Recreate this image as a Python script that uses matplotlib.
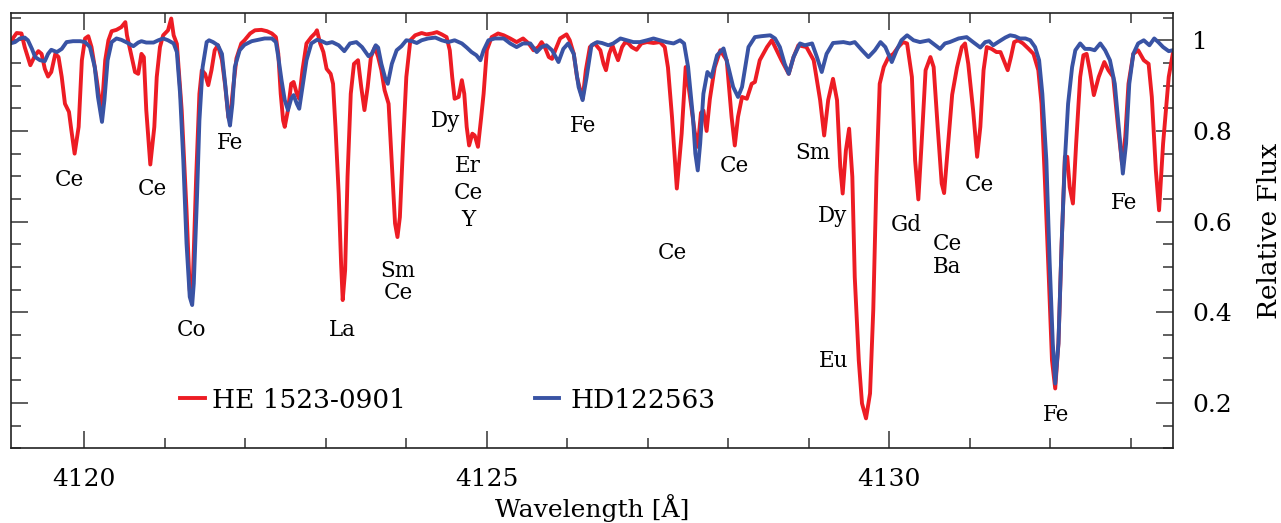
import matplotlib
matplotlib.use("Agg")
import matplotlib.pyplot as plt
import numpy as np
from matplotlib.ticker import MultipleLocator, FixedLocator, FuncFormatter

# HE 1523-0901 (red)
red_wl = [4119.08, 4119.16, 4119.22, 4119.26, 4119.33, 4119.39, 4119.43, 4119.47, 4119.51, 4119.55,
          4119.59, 4119.64, 4119.68, 4119.72, 4119.76, 4119.81, 4119.84, 4119.88, 4119.93, 4119.97,
          4120.01, 4120.05, 4120.09, 4120.15, 4120.19, 4120.22, 4120.26, 4120.30, 4120.34, 4120.40,
          4120.46, 4120.51, 4120.53, 4120.58, 4120.63, 4120.67, 4120.71, 4120.74, 4120.77, 4120.82,
          4120.87, 4120.90, 4120.94, 4120.98, 4121.04, 4121.08, 4121.11, 4121.15, 4121.21, 4121.27,
          4121.31, 4121.33, 4121.35, 4121.39, 4121.43, 4121.46, 4121.50, 4121.54, 4121.58, 4121.62,
          4121.66, 4121.71, 4121.75, 4121.79, 4121.81, 4121.84, 4121.89, 4121.95, 4121.99, 4122.06,
          4122.12, 4122.20, 4122.27, 4122.33, 4122.38, 4122.41, 4122.44, 4122.47, 4122.49, 4122.53,
          4122.57, 4122.60, 4122.64, 4122.67, 4122.71, 4122.76, 4122.82, 4122.87, 4122.89, 4122.93,
          4122.97, 4123.01, 4123.06, 4123.09, 4123.12, 4123.16, 4123.19, 4123.21, 4123.24, 4123.27,
          4123.31, 4123.35, 4123.40, 4123.44, 4123.48, 4123.52, 4123.56, 4123.61, 4123.65, 4123.69,
          4123.73, 4123.78, 4123.82, 4123.86, 4123.89, 4123.92, 4123.96, 4124.00, 4124.05, 4124.11,
          4124.19, 4124.25, 4124.32, 4124.38, 4124.44, 4124.50, 4124.54, 4124.57, 4124.60, 4124.65,
          4124.69, 4124.72, 4124.75, 4124.78, 4124.82, 4124.85, 4124.89, 4124.93, 4124.96, 4125.00,
          4125.06, 4125.14, 4125.21, 4125.29, 4125.37, 4125.45, 4125.52, 4125.58, 4125.64, 4125.68,
          4125.72, 4125.77, 4125.81, 4125.85, 4125.91, 4125.99, 4126.03, 4126.08, 4126.12, 4126.16,
          4126.19, 4126.23, 4126.28, 4126.34, 4126.41, 4126.45, 4126.48, 4126.52, 4126.56, 4126.59,
          4126.63, 4126.68, 4126.72, 4126.76, 4126.80, 4126.86, 4126.92, 4126.99, 4127.07, 4127.15,
          4127.21, 4127.25, 4127.30, 4127.36, 4127.42, 4127.47, 4127.52, 4127.58, 4127.62, 4127.66,
          4127.69, 4127.73, 4127.77, 4127.83, 4127.90, 4127.98, 4128.04, 4128.08, 4128.12, 4128.17,
          4128.23, 4128.29, 4128.33, 4128.39, 4128.48, 4128.54, 4128.60, 4128.66, 4128.75, 4128.81,
          4128.87, 4128.97, 4129.06, 4129.14, 4129.19, 4129.24, 4129.30, 4129.35, 4129.39, 4129.42,
          4129.46, 4129.50, 4129.54, 4129.57, 4129.62, 4129.66, 4129.71, 4129.76, 4129.80, 4129.84,
          4129.88, 4129.93, 4129.99, 4130.05, 4130.11, 4130.17, 4130.22, 4130.28, 4130.32, 4130.36,
          4130.40, 4130.45, 4130.51, 4130.55, 4130.60, 4130.65, 4130.68, 4130.73, 4130.78, 4130.84,
          4130.90, 4130.94, 4130.98, 4131.04, 4131.09, 4131.13, 4131.17, 4131.21, 4131.27, 4131.33,
          4131.38, 4131.42, 4131.47, 4131.51, 4131.55, 4131.60, 4131.66, 4131.73, 4131.79, 4131.85,
          4131.89, 4131.93, 4131.98, 4132.02, 4132.06, 4132.10, 4132.14, 4132.18, 4132.21, 4132.24,
          4132.28, 4132.32, 4132.37, 4132.41, 4132.45, 4132.49, 4132.54, 4132.60, 4132.67, 4132.72,
          4132.78, 4132.84, 4132.89, 4132.93, 4132.97, 4133.03, 4133.09, 4133.16, 4133.22, 4133.26,
          4133.31, 4133.35, 4133.40, 4133.47, 4133.52]
red_flux = [0.996, 1.016, 1.015, 0.985, 0.945, 0.967, 0.976, 0.970, 0.937, 0.920,
            0.930, 0.970, 0.963, 0.919, 0.860, 0.842, 0.801, 0.750, 0.809, 0.956,
            1.004, 1.009, 0.985, 0.919, 0.868, 0.853, 0.956, 1.000, 1.020, 1.023,
            1.029, 1.040, 1.011, 0.970, 0.930, 0.926, 0.970, 0.963, 0.846, 0.726,
            0.809, 0.919, 0.985, 1.011, 1.022, 1.048, 1.011, 0.992, 0.846, 0.625,
            0.449, 0.427, 0.478, 0.699, 0.882, 0.934, 0.926, 0.901, 0.934, 0.978,
            0.989, 0.956, 0.900, 0.830, 0.825, 0.880, 0.960, 0.993, 1.000, 1.015,
            1.022, 1.023, 1.020, 1.015, 1.007, 0.970, 0.882, 0.823, 0.809, 0.846,
            0.904, 0.908, 0.882, 0.871, 0.934, 0.993, 1.007, 1.016, 1.022, 0.993,
            0.974, 0.937, 0.926, 0.904, 0.809, 0.662, 0.507, 0.427, 0.493, 0.699,
            0.882, 0.948, 0.956, 0.897, 0.846, 0.897, 0.963, 0.985, 0.963, 0.934,
            0.890, 0.860, 0.728, 0.596, 0.566, 0.610, 0.772, 0.919, 1.000, 1.011,
            1.016, 1.013, 1.015, 1.018, 1.013, 1.007, 0.978, 0.919, 0.871, 0.875,
            0.912, 0.882, 0.809, 0.768, 0.794, 0.790, 0.765, 0.830, 0.882, 0.978,
            1.007, 1.015, 1.011, 1.004, 0.996, 1.004, 0.993, 0.978, 0.985, 0.996,
            0.985, 0.963, 0.959, 0.978, 1.004, 1.013, 1.000, 0.970, 0.919, 0.890,
            0.871, 0.934, 0.985, 0.993, 0.978, 0.948, 0.934, 0.970, 0.989, 0.974,
            0.956, 0.985, 0.996, 0.993, 0.985, 0.979, 0.993, 0.996, 0.994, 0.996,
            0.985, 0.940, 0.831, 0.673, 0.794, 0.941, 0.880, 0.800, 0.765, 0.840,
            0.845, 0.800, 0.870, 0.940, 0.978, 0.956, 0.831, 0.768, 0.831, 0.875,
            0.871, 0.904, 0.908, 0.956, 0.985, 1.000, 0.978, 0.956, 0.926, 0.963,
            0.989, 0.985, 0.956, 0.868, 0.790, 0.868, 0.915, 0.868, 0.721, 0.662,
            0.757, 0.805, 0.699, 0.478, 0.294, 0.199, 0.166, 0.221, 0.405, 0.699,
            0.904, 0.941, 0.963, 0.970, 0.985, 0.996, 0.993, 0.919, 0.735, 0.649,
            0.772, 0.934, 0.963, 0.941, 0.809, 0.684, 0.663, 0.772, 0.880, 0.940,
            0.985, 0.993, 0.948, 0.846, 0.743, 0.809, 0.934, 0.985, 0.981, 0.974,
            0.974, 0.956, 0.934, 0.963, 0.996, 1.000, 0.993, 0.981, 0.970, 0.934,
            0.860, 0.699, 0.478, 0.294, 0.232, 0.331, 0.552, 0.743, 0.743, 0.676,
            0.640, 0.772, 0.919, 0.967, 0.970, 0.934, 0.879, 0.919, 0.952, 0.934,
            0.919, 0.809, 0.728, 0.787, 0.904, 0.970, 0.978, 0.956, 0.948, 0.875,
            0.713, 0.625, 0.772, 0.919, 0.970]

# HD122563 (blue)
blue_wl = [4119.08, 4119.14, 4119.20, 4119.26, 4119.30, 4119.35, 4119.39, 4119.45, 4119.51, 4119.55,
           4119.59, 4119.66, 4119.72, 4119.78, 4119.86, 4119.95, 4120.01, 4120.07, 4120.13, 4120.17,
           4120.22, 4120.25, 4120.29, 4120.34, 4120.40, 4120.46, 4120.53, 4120.61, 4120.67, 4120.71,
           4120.77, 4120.86, 4120.92, 4120.98, 4121.04, 4121.11, 4121.15, 4121.19, 4121.23, 4121.27,
           4121.31, 4121.34, 4121.36, 4121.40, 4121.43, 4121.47, 4121.52, 4121.55, 4121.60, 4121.66,
           4121.71, 4121.75, 4121.79, 4121.81, 4121.84, 4121.87, 4121.93, 4121.99, 4122.08, 4122.16,
           4122.24, 4122.33, 4122.38, 4122.41, 4122.45, 4122.49, 4122.53, 4122.57, 4122.60, 4122.64,
           4122.67, 4122.71, 4122.76, 4122.82, 4122.89, 4122.95, 4123.01, 4123.08, 4123.16, 4123.23,
           4123.30, 4123.38, 4123.45, 4123.53, 4123.57, 4123.62, 4123.65, 4123.69, 4123.74, 4123.77,
           4123.82, 4123.88, 4123.94, 4124.00, 4124.07, 4124.13, 4124.19, 4124.27, 4124.36, 4124.44,
           4124.52, 4124.60, 4124.69, 4124.75, 4124.81, 4124.87, 4124.92, 4124.96, 4125.02, 4125.10,
           4125.21, 4125.29, 4125.37, 4125.45, 4125.54, 4125.62, 4125.68, 4125.74, 4125.81, 4125.89,
           4125.95, 4126.01, 4126.08, 4126.14, 4126.19, 4126.24, 4126.30, 4126.37, 4126.43, 4126.51,
           4126.57, 4126.66, 4126.74, 4126.82, 4126.90, 4126.99, 4127.07, 4127.15, 4127.23, 4127.32,
           4127.40, 4127.45, 4127.50, 4127.56, 4127.59, 4127.62, 4127.65, 4127.69, 4127.74, 4127.79,
           4127.86, 4127.94, 4128.00, 4128.06, 4128.12, 4128.17, 4128.25, 4128.33, 4128.41, 4128.52,
           4128.58, 4128.64, 4128.70, 4128.75, 4128.81, 4128.89, 4128.95, 4129.04, 4129.10, 4129.16,
           4129.22, 4129.30, 4129.43, 4129.51, 4129.57, 4129.66, 4129.74, 4129.82, 4129.89, 4129.95,
           4130.03, 4130.09, 4130.15, 4130.22, 4130.30, 4130.38, 4130.49, 4130.57, 4130.63, 4130.69,
           4130.75, 4130.86, 4130.96, 4131.04, 4131.13, 4131.19, 4131.24, 4131.29, 4131.35, 4131.44,
           4131.50, 4131.56, 4131.62, 4131.69, 4131.75, 4131.81, 4131.86, 4131.90, 4131.95, 4131.99,
           4132.03, 4132.06, 4132.10, 4132.14, 4132.18, 4132.22, 4132.27, 4132.31, 4132.37, 4132.43,
           4132.49, 4132.55, 4132.62, 4132.68, 4132.74, 4132.80, 4132.86, 4132.90, 4132.94, 4132.98,
           4133.03, 4133.09, 4133.16, 4133.23, 4133.29, 4133.34, 4133.40, 4133.47, 4133.52]
blue_flux = [0.993, 0.996, 1.004, 1.006, 1.000, 0.981, 0.963, 0.956, 0.954, 0.970,
             0.979, 0.974, 0.981, 0.996, 0.998, 0.998, 0.996, 0.985, 0.941, 0.875,
             0.820, 0.868, 0.956, 0.996, 1.004, 1.001, 0.995, 0.987, 0.995, 0.998,
             0.995, 0.995, 1.000, 1.004, 1.000, 0.993, 0.974, 0.882, 0.735, 0.552,
             0.434, 0.416, 0.463, 0.654, 0.823, 0.941, 0.996, 1.000, 0.996, 0.989,
             0.970, 0.904, 0.831, 0.812, 0.860, 0.941, 0.978, 0.990, 0.998, 1.001,
             1.004, 1.004, 0.996, 0.963, 0.912, 0.868, 0.846, 0.871, 0.879, 0.860,
             0.849, 0.897, 0.956, 0.993, 1.001, 0.998, 0.993, 0.996, 0.989, 0.976,
             0.993, 0.996, 0.985, 0.965, 0.970, 0.989, 0.984, 0.948, 0.915, 0.904,
             0.948, 0.978, 0.987, 1.000, 0.998, 0.994, 1.000, 1.004, 1.006, 1.000,
             0.996, 1.000, 0.993, 0.984, 0.974, 0.967, 0.956, 0.978, 1.000, 1.004,
             1.004, 0.993, 0.985, 0.993, 0.993, 0.974, 0.985, 0.989, 0.978, 0.952,
             0.981, 0.993, 0.970, 0.897, 0.868, 0.919, 0.989, 0.996, 0.994, 0.989,
             0.993, 1.004, 1.000, 0.996, 0.996, 1.000, 1.004, 1.000, 0.996, 0.993,
             1.000, 0.993, 0.941, 0.831, 0.750, 0.713, 0.772, 0.882, 0.930, 0.919,
             0.967, 0.982, 0.941, 0.897, 0.875, 0.897, 0.985, 1.007, 1.009, 1.011,
             1.004, 0.985, 0.948, 0.926, 0.963, 0.993, 0.989, 0.993, 0.963, 0.930,
             0.970, 0.994, 0.996, 0.993, 0.996, 0.978, 0.963, 0.978, 0.996, 0.985,
             0.952, 0.978, 1.000, 1.011, 1.000, 0.996, 1.000, 0.989, 0.981, 0.993,
             0.996, 1.004, 1.007, 0.996, 0.984, 0.996, 0.998, 0.989, 0.996, 1.006,
             1.011, 1.009, 1.004, 1.004, 1.000, 0.985, 0.956, 0.882, 0.735, 0.515,
             0.331, 0.243, 0.331, 0.552, 0.735, 0.860, 0.941, 0.978, 0.993, 0.981,
             0.981, 0.978, 0.993, 0.978, 0.956, 0.904, 0.787, 0.706, 0.772, 0.904,
             0.970, 0.993, 1.000, 0.989, 1.004, 0.996, 0.985, 0.976, 0.978]

# line identifications (one entry per text line)
line_names = ["Ce", "Ce", "Co", "Fe", "La", "Sm", "Ce", "Dy", "Er", "Ce", "Y", "Fe",
              "Ce", "Ce", "Sm", "Dy", "Eu", "Gd", "Ce", "Ba", "Ce", "Fe", "Fe"]
line_wl = [4119.81, 4120.84, 4121.33, 4121.81, 4123.20, 4123.90, 4123.90, 4124.49,
           4124.77, 4124.77, 4124.77, 4126.19, 4127.31, 4128.07, 4129.05, 4129.30,
           4129.31, 4130.21, 4130.72, 4130.72, 4131.12, 4132.07, 4132.92]
line_y = [0.698, 0.678, 0.367, 0.780, 0.367, 0.497, 0.447, 0.828,
          0.729, 0.669, 0.610, 0.817, 0.537, 0.729, 0.757, 0.619,
          0.299, 0.597, 0.557, 0.506, 0.687, 0.180, 0.647]

red = "#ED1C24"
blue = "#3953A4"
plt.rcParams["font.family"] = ["DejaVu Serif"]

fig = plt.figure(figsize=(12.81, 5.23), dpi=100)
ax = fig.add_axes([0.0086, 0.1428, 0.9069, 0.8322])

ax.plot(red_wl, red_flux, color=red, lw=2.8, solid_joinstyle="round")
ax.plot(blue_wl, blue_flux, color=blue, lw=2.8, solid_joinstyle="round")

for name, x, y in zip(line_names, line_wl, line_y):
    ax.text(x, y, name, fontsize=15.5, ha="center", va="center_baseline", color="black")

# legend drawn by hand
ax.plot([0.1454, 0.167], [0.1156, 0.1156], color=red, lw=2.8, transform=ax.transAxes)
ax.text(0.173, 0.1156, "HE 1523-0901", fontsize=19, va="center_baseline", transform=ax.transAxes)
ax.plot([0.451, 0.4716], [0.1156, 0.1156], color=blue, lw=2.8, transform=ax.transAxes)
ax.text(0.482, 0.1156, "HD122563", fontsize=19, va="center_baseline", transform=ax.transAxes)

ax.set_xlim(4119.09, 4133.52)
ax.set_ylim(0.1, 1.06)

ax.xaxis.set_major_locator(FixedLocator([4120, 4125, 4130]))
ax.xaxis.set_minor_locator(MultipleLocator(1))
ax.yaxis.set_major_locator(MultipleLocator(0.2))
ax.yaxis.set_minor_locator(MultipleLocator(0.05))
ax.yaxis.set_major_formatter(FuncFormatter(lambda v, p: "1" if abs(v - 1) < 1e-6 else "%.1f" % v))

ax.tick_params(which="both", direction="in", top=True, right=True, left=True, bottom=True,
               labelleft=False, labelright=True, color="#333333", width=1.1)
ax.tick_params(which="major", length=12, labelsize=18, pad=14)
ax.tick_params(which="minor", length=7)
for s in ax.spines.values():
    s.set_linewidth(1.2)
    s.set_color("#222222")

ax.set_xlabel("Wavelength [Å]", fontsize=18, labelpad=2)
ax.yaxis.set_label_position("right")
ax.set_ylabel("Relative Flux", fontsize=19, rotation=90, labelpad=18)

fig.savefig("out.png", dpi=100)
